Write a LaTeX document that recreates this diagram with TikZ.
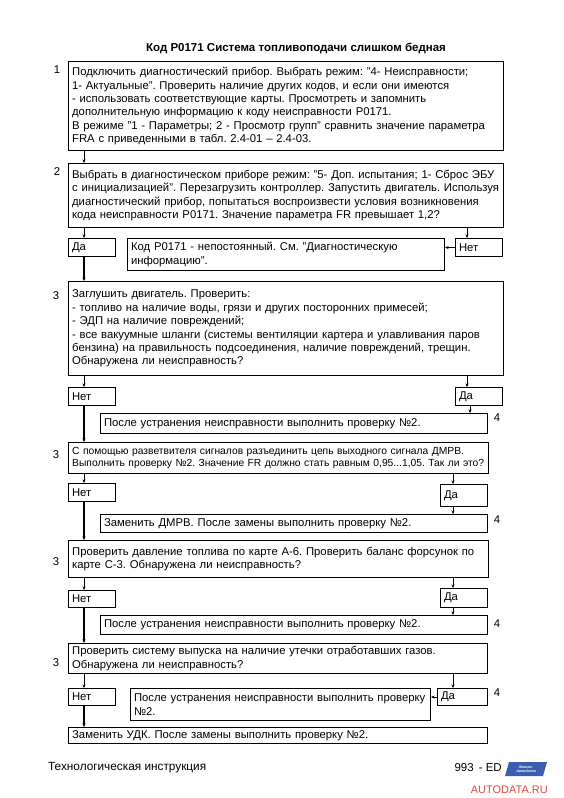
\documentclass[tikz,border=0pt]{standalone}
\usepackage{fontspec}
\setmainfont{Liberation Sans}
\usetikzlibrary{arrows.meta}
\definecolor{logoblue}{HTML}{3A5DB0}
\definecolor{adred}{HTML}{E04848}
\newcommand\fs{\fontsize{11.3}{13.4}\selectfont\frenchspacing}
\newcommand\fsb{\fontsize{10.3}{12.4}\selectfont\frenchspacing}
\begin{document}
\begin{tikzpicture}[x=1pt,y=-1pt,
  bx/.style={draw, line width=1.3pt, anchor=north west, inner xsep=3.5pt, inner ysep=0pt, align=left, font=\fs},
  sbx/.style={bx, line width=1.1pt},
  num/.style={font=\fs},
  arr/.style={-{Stealth[length=3.5pt,width=3pt]}, line width=0.8pt},
  ln/.style={line width=1.2pt}]
\useasboundingbox[fill=white] (0,0) rectangle (564,798);
\coordinate (cl) at (84,0);
\coordinate (cr1) at (467,0);
\coordinate (cr2) at (470,0);
\coordinate (cr3) at (453,0);
\node[font=\bfseries\fontsize{11.5}{13}\selectfont\frenchspacing] (title) at (296,48) {Код P0171 Система топливоподачи слишком бедная};
% box 1
\node[bx, minimum width=435, minimum height=89, text width=428] (b1) at (68,61) {Подключить диагностический прибор. Выбрать режим: "4- Неисправности;\\
1- Актуальные". Проверить наличие других кодов, и если они имеются\\
- использовать соответствующие карты. Просмотреть и запомнить\\
дополнительную информацию к коду неисправности P0171.\\
В режиме "1 - Параметры; 2 - Просмотр групп" сравнить значение параметра\\
FRA с приведенными в табл. 2.4-01 – 2.4-03.};
\node[num] (n1) at (57,70) {1};
% box 2
\node[bx, minimum width=435, minimum height=64, text width=428] (b2) at (68,163) {Выбрать в диагностическом приборе режим: "5- Доп. испытания; 1- Сброс ЭБУ\\
с инициализацией". Перезагрузить контроллер. Запустить двигатель. Используя\\
диагностический прибор, попытаться воспроизвести условия возникновения\\
кода неисправности P0171. Значение параметра FR превышает 1,2?};
\node[num] (n2) at (57,172) {2};
\node[sbx, minimum width=47, minimum height=18, text width=40] (da1) at (68,238) {Да};
\node[sbx, minimum width=317, minimum height=32, text width=310] (mid1) at (127,238) {Код P0171 - непостоянный. См. "Диагностическую\\ информацию".};
\node[sbx, minimum width=47, minimum height=18, text width=40] (net1) at (455,238) {Нет};
% box 3
\node[bx, minimum width=435, minimum height=94, text width=428] (b3) at (68,281) {Заглушить двигатель. Проверить:\\
- топливо на наличие воды, грязи и других посторонних примесей;\\
- ЭДП на наличие повреждений;\\
- все вакуумные шланги (системы вентиляции картера и улавливания паров\\
бензина) на правильность подсоединения, наличие повреждений, трещин.\\
Обнаружена ли неисправность?};
\node[num] (n3) at (56,296) {3};
\node[sbx, minimum width=47, minimum height=18, text width=40] (net2) at (68,387) {Нет};
\node[sbx, minimum width=47, minimum height=18, text width=40] (da2) at (455,387) {Да};
\node[sbx, minimum width=387, minimum height=20, text width=380] (fix1) at (100,413) {После устранения неисправности выполнить проверку №2.};
\node[num] (n4) at (497,418) {4};
% box 4
\node[bx, font=\fsb, minimum width=420, minimum height=31, text width=413] (b4) at (68,442) {\mbox{С помощью разветвителя сигналов разъединить цепь выходного сигнала ДМРВ.}\\
\mbox{Выполнить проверку №2. Значение FR должно стать равным 0,95...1,05. Так ли это?}};
\node[num] (n5) at (56,455) {3};
\node[sbx, minimum width=47, minimum height=18, text width=40] (net3) at (68,483) {Нет};
\node[sbx, minimum width=47, minimum height=22, text width=40] (da3) at (440,484) {Да};
\node[sbx, minimum width=387, minimum height=18, text width=380] (fix2) at (100,514) {Заменить ДМРВ. После замены выполнить проверку №2.};
\node[num] (n6) at (497,520) {4};
% box 5
\node[bx, minimum width=420, minimum height=37, text width=413] (b5) at (68,540) {Проверить давление топлива по карте А-6. Проверить баланс форсунок по\\
карте С-3. Обнаружена ли неисправность?};
\node[num] (n7) at (56,562) {3};
\node[sbx, minimum width=47, minimum height=17, text width=40] (net4) at (68,590) {Нет};
\node[sbx, minimum width=47, minimum height=19, text width=40] (da4) at (440,588) {Да};
\node[sbx, minimum width=387, minimum height=19, text width=380] (fix3) at (100,615) {После устранения неисправности выполнить проверку №2.};
\node[num] (n8) at (497,624) {4};
% box 6
\node[bx, minimum width=419, minimum height=30, text width=412] (b6) at (68,643) {Проверить систему выпуска на наличие утечки отработавших газов.\\
Обнаружена ли неисправность?};
\node[num] (n9) at (56,663) {3};
\node[sbx, minimum width=47, minimum height=17, text width=40] (net5) at (68,688) {Нет};
\node[sbx, minimum width=300, minimum height=32, text width=293] (mid6) at (130,688) {После устранения неисправности выполнить проверку\\ №2.};
\node[sbx, minimum width=50, minimum height=17, text width=43] (da5) at (437,688) {Да};
\node[num] (n10) at (497,693) {4};
% box 7
\node[bx, minimum width=419, minimum height=16, text width=412] (b7) at (68,727) {Заменить УДК. После замены выполнить проверку №2.};
% connectors
\draw[arr] (b1.south -| cl) -- (b2.north -| cl);
\draw[arr] (b2.south -| cl) -- (da1.north -| cl);
\draw[arr] (b2.south -| cr1) -- (net1.north -| cr1);
\draw[arr] (net1.west) -- (net1.west -| mid1.east);
\draw[arr,ln] (da1.south -| cl) -- (b3.north -| cl);
\draw[arr] (b3.south -| cl) -- (net2.north -| cl);
\draw[arr] (b3.south -| cr1) -- (da2.north -| cr1);
\draw[arr] (da2.south -| cr2) -- (fix1.north -| cr2);
\draw[arr,ln] (net2.south -| cl) -- (b4.north -| cl);
\draw[arr] (b4.south -| cl) -- (net3.north -| cl);
\draw[arr] (b4.south -| cr3) -- (da3.north -| cr3);
\draw[arr] (da3.south -| cr3) -- (fix2.north -| cr3);
\draw[arr,ln] (net3.south -| cl) -- (b5.north -| cl);
\draw[arr] (b5.south -| cl) -- (net4.north -| cl);
\draw[arr] (b5.south -| cr3) -- (da4.north -| cr3);
\draw[arr] (da4.south -| cr3) -- (fix3.north -| cr3);
\draw[arr,ln] (net4.south -| cl) -- (b6.north -| cl);
\draw[arr] (b6.south -| cl) -- (net5.north -| cl);
\draw[arr] (b6.south -| cr3) -- (da5.north -| cr3);
\draw[arr] (da5.west) -- (da5.west -| mid6.east);
\draw[arr,ln] (net5.south -| cl) -- (b7.north -| cl);
% footer
\node[font=\fontsize{11.8}{13}\selectfont, anchor=west, inner sep=0pt] (foot) at (48,768) {Технологическая инструкция};
\node[font=\fontsize{11.5}{13}\selectfont, anchor=east, inner sep=0pt] (page) at (502,768) {993 \,- ED};
\fill[logoblue] (509,762) -- (547,762) -- (543,776) -- (505,776) -- cycle;
\node[font=\itshape\bfseries\fontsize{3.6}{4}\selectfont, text=white, inner sep=0pt, align=center] (logo) at (526,769) {Легион-\\Автодата};
\node[font=\fontsize{11}{13}\selectfont, text=adred, anchor=east, inner sep=0pt] (ad) at (548,790) {AUTODATA.RU};
\end{tikzpicture}
\end{document}
